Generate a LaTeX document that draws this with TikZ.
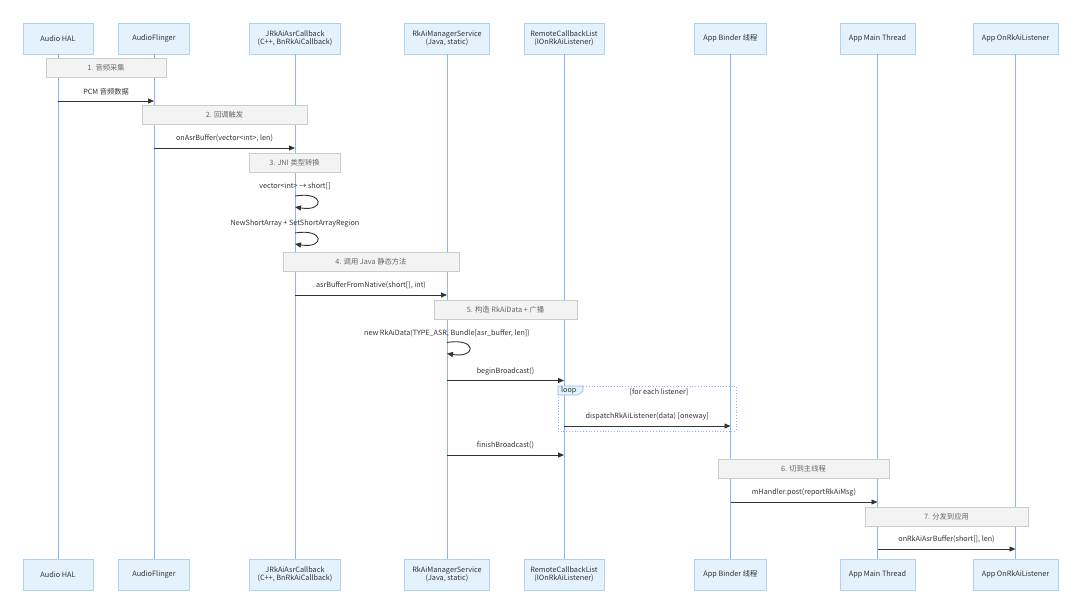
\documentclass[tikz,border=0pt]{standalone}
\usepackage{fontspec}
\setmainfont{Noto Sans CJK SC}
\usetikzlibrary{arrows.meta}
\definecolor{actfill}{HTML}{E3F2FD}
\definecolor{actline}{HTML}{B0D0F8}
\definecolor{lifeblue}{HTML}{8CB4F5}
\definecolor{notefill}{HTML}{F3F3F3}
\definecolor{noteline}{HTML}{CCCCCC}
\definecolor{notetext}{HTML}{666666}
\definecolor{msgcol}{HTML}{333333}
\begin{document}
\begin{tikzpicture}[x=1pt,y=-1pt,
 actor/.style={draw=actline,fill=actfill,line width=0.8pt,minimum height=31pt,align=center,inner sep=2pt,font=\fontsize{7.3}{8.3}\selectfont,text=msgcol},
 life/.style={draw=lifeblue,line width=1pt},
 note/.style={draw=noteline,fill=notefill,line width=0.8pt,minimum height=19pt,font=\fontsize{7.3}{9}\selectfont,text=notetext},
 msg/.style={draw=msgcol,line width=0.9pt,-{Triangle[length=6pt,width=5pt]}},
 lbl/.style={font=\fontsize{7.2}{9}\selectfont,text=msgcol,yshift=9.5pt}]
 \useasboundingbox (0,0) rectangle (1080,613);
 \node[actor,minimum width=70pt] (hal) at (58,38.5) {Audio HAL};
 \node[actor,minimum width=71pt] (af) at (154,38.5) {AudioFlinger};
 \node[actor,minimum width=91pt] (jni) at (295,38.5) {JRkAiAsrCallback\\(C++, BnRkAiCallback)};
 \node[actor,minimum width=85pt] (svc) at (447,38.5) {RkAiManagerService\\(Java, static)};
 \node[actor,minimum width=80pt] (rcl) at (564,38.5) {RemoteCallbackList\\(IOnRkAiListener)};
 \node[actor,minimum width=72pt] (bnd) at (730.5,38.5) {App Binder 线程};
 \node[actor,minimum width=75pt] (mth) at (877.5,38.5) {App Main Thread};
 \node[actor,minimum width=85pt] (lst) at (1015.5,38.5) {App OnRkAiListener};
 \node[actor,minimum width=70pt] (halB) at (58,574.5) {Audio HAL};
 \node[actor,minimum width=71pt] (afB) at (154,574.5) {AudioFlinger};
 \node[actor,minimum width=91pt] (jniB) at (295,574.5) {JRkAiAsrCallback\\(C++, BnRkAiCallback)};
 \node[actor,minimum width=85pt] (svcB) at (447,574.5) {RkAiManagerService\\(Java, static)};
 \node[actor,minimum width=80pt] (rclB) at (564,574.5) {RemoteCallbackList\\(IOnRkAiListener)};
 \node[actor,minimum width=72pt] (bndB) at (730.5,574.5) {App Binder 线程};
 \node[actor,minimum width=75pt] (mthB) at (877.5,574.5) {App Main Thread};
 \node[actor,minimum width=85pt] (lstB) at (1015.5,574.5) {App OnRkAiListener};
 \draw[life] (hal.south) -- (halB.north);
 \draw[life] (af.south) -- (afB.north);
 \draw[life] (jni.south) -- (jniB.north);
 \draw[life] (svc.south) -- (svcB.north);
 \draw[life] (rcl.south) -- (rclB.north);
 \draw[life] (bnd.south) -- (bndB.north);
 \draw[life] (mth.south) -- (mthB.north);
 \draw[life] (lst.south) -- (lstB.north);
 \node[note,minimum width=120pt] (n1) at (106,67.5) {1. 音频采集};
 \node[note,minimum width=165pt] (n2) at (224.5,115) {2. 回调触发};
 \node[note,minimum width=91pt] (n3) at (294.5,162.5) {3. JNI 类型转换};
 \node[note,minimum width=176pt] (n4) at (371,262) {4. 调用 Java 静态方法};
 \node[note,minimum width=143pt] (n5) at (505.5,309.5) {5. 构造 RkAiData + 广播};
 \node[note,minimum width=171pt] (n6) at (803.5,468.5) {6. 切到主线程};
 \node[note,minimum width=163pt] (n7) at (946.5,516.5) {7. 分发到应用};
 \coordinate (r1) at (0,101);
 \coordinate (r2) at (0,148);
 \coordinate (s1a) at (0,196);
 \coordinate (s1b) at (0,207);
 \coordinate (s2a) at (0,233);
 \coordinate (s2b) at (0,244);
 \coordinate (r3) at (0,295);
 \coordinate (s3a) at (0,342.5);
 \coordinate (s3b) at (0,353.5);
 \coordinate (r4) at (0,380.5);
 \coordinate (r5) at (0,426);
 \coordinate (r6) at (0,455);
 \coordinate (r7) at (0,502);
 \coordinate (r8) at (0,549);
 \draw[msg] (hal |- r1) -- node[lbl] {PCM 音频数据} (af |- r1);
 \draw[msg] (af |- r2) -- node[lbl] {onAsrBuffer(vector<int>, len)} (jni |- r2);
 \node[lbl] (t1) at (jni |- s1a) {vector<int> → short[]};
 \draw[msg] (jni |- s1a) .. controls +(30,-5) and +(30,5) .. (jni |- s1b);
 \node[lbl] (t2) at (jni |- s2a) {NewShortArray + SetShortArrayRegion};
 \draw[msg] (jni |- s2a) .. controls +(30,-5) and +(30,5) .. (jni |- s2b);
 \draw[msg] (jni |- r3) -- node[lbl] {asrBufferFromNative(short[], int)} (svc |- r3);
 \node[lbl] (t3) at (svc |- s3a) {new RkAiData(TYPE\_ASR, Bundle[asr\_buffer, len])};
 \draw[msg] (svc |- s3a) .. controls +(30,-5) and +(30,5) .. (svc |- s3b);
 \draw[msg] (svc |- r4) -- node[lbl] {beginBroadcast()} (rcl |- r4);
 \draw[lifeblue,dotted,line width=0.8pt] (558,386) rectangle (736,431);
 \draw[draw=lifeblue,fill=actfill,line width=0.6pt] (558,386) -- (583,386) -- (583,391) -- (578,395) -- (558,395) -- cycle;
 \node[font=\fontsize{7.2}{9}\selectfont,text=msgcol,anchor=west,inner sep=1pt] (looptag) at (560,390.5) {loop};
 \node[font=\fontsize{7.2}{9}\selectfont,text=msgcol] (cond) at (659,392) {[for each listener]};
 \draw[msg] (rcl |- r5) -- node[lbl] {dispatchRkAiListener(data) [oneway]} (bnd |- r5);
 \draw[msg] (svc |- r6) -- node[lbl] {finishBroadcast()} (rcl |- r6);
 \draw[msg] (bnd |- r7) -- node[lbl] {mHandler.post(reportRkAiMsg)} (mth |- r7);
 \draw[msg] (mth |- r8) -- node[lbl] {onRkAiAsrBuffer(short[], len)} (lst |- r8);
\end{tikzpicture}
\end{document}
